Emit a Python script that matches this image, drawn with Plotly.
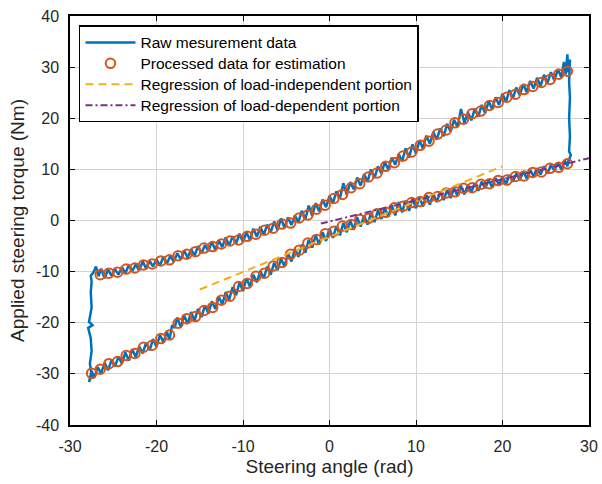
import plotly.graph_objects as go

# ---------------- data ----------------
# Raw measurement loop: upper branch (left->right), right drop, lower branch (right->left), left rise
raw_x = [
    -27.3, -27.0, -26.7, -26.4, -26.0, -25.6, -25.2, -24.8, -24.4, -24.0, -23.6, -23.2, -22.8, -22.4,
    -22.0, -21.6, -21.2, -20.8, -20.4, -20.0, -19.6, -19.2, -18.8, -18.4, -18.0, -17.6, -17.2, -16.8,
    -16.4, -16.0, -15.6, -15.2, -14.8, -14.4, -14.0, -13.6, -13.2, -12.8, -12.4, -12.0, -11.6, -11.2,
    -10.8, -10.4, -10.0, -9.6, -9.2, -8.8, -8.4, -8.0, -7.6, -7.2, -6.8, -6.4, -6.0, -5.6, -5.2, -4.8,
    -4.4, -4.0, -3.6, -3.2, -2.8, -2.4, -2.0, -1.6, -1.2, -0.8, -0.4, 0.0, 0.4, 0.8, 1.2, 1.6, 2.0,
    2.4, 2.8, 3.2, 3.6, 4.0, 4.4, 4.8, 5.2, 5.6, 6.0, 6.4, 6.8, 7.2, 7.6, 8.0, 8.4, 8.8, 9.2, 9.6,
    10.0, 10.4, 10.8, 11.2, 11.6, 12.0, 12.4, 12.8, 13.2, 13.6, 14.0, 14.4, 14.8, 15.2, 15.6, 16.0,
    16.4, 16.8, 17.2, 17.6, 18.0, 18.4, 18.8, 19.2, 19.6, 20.0, 20.4, 20.8, 21.2, 21.6, 22.0, 22.4,
    22.8, 23.2, 23.6, 24.0, 24.4, 24.8, 25.2, 25.6, 26.0, 26.4, 26.8, 27.1, 27.3, 27.5, 27.6,
    27.8, 27.7, 27.8, 27.7, 27.8, 27.7, 27.9, 27.6, 27.5,
    27.2, 26.8, 26.4, 26.0, 25.6, 25.2, 24.8, 24.4, 24.0, 23.6, 23.2, 22.8, 22.4, 22.0, 21.6, 21.2,
    20.8, 20.4, 20.0, 19.6, 19.2, 18.8, 18.4, 18.0, 17.6, 17.2, 16.8, 16.4, 16.0, 15.6, 15.2, 14.8,
    14.4, 14.0, 13.6, 13.2, 12.8, 12.4, 12.0, 11.6, 11.2, 10.8, 10.4, 10.0, 9.6, 9.2, 8.8, 8.4, 8.0,
    7.6, 7.2, 6.8, 6.4, 6.0, 5.6, 5.2, 4.8, 4.4, 4.0, 3.6, 3.2, 2.8, 2.4, 2.0, 1.6, 1.2, 0.8, 0.4,
    0.0, -0.4, -0.8, -1.2, -1.6, -2.0, -2.4, -2.8, -3.2, -3.6, -4.0, -4.4, -4.8, -5.2, -5.6, -6.0,
    -6.4, -6.8, -7.2, -7.6, -8.0, -8.4, -8.8, -9.2, -9.6, -10.0, -10.4, -10.8, -11.2, -11.6, -12.0,
    -12.4, -12.8, -13.2, -13.6, -14.0, -14.4, -14.8, -15.2, -15.6, -16.0, -16.4, -16.8, -17.2, -17.6,
    -17.9, -18.2, -18.5, -18.8, -19.2, -19.6, -20.0, -20.4, -20.8, -21.2, -21.6, -22.0, -22.4, -22.8,
    -23.2, -23.6, -24.0, -24.4, -24.8, -25.2, -25.6, -26.0, -26.4, -26.8, -27.2, -27.5, -27.8,
    -27.5, -27.7, -27.5, -27.6, -27.9, -27.4, -27.8, -27.5, -27.6, -27.5, -27.6, -27.3,
]
raw_y = [
    -10.2, -9.0, -10.9, -9.4, -11.3, -9.6, -10.8, -9.5, -10.6, -9.1, -10.3, -8.7, -9.9, -8.6,
    -9.8, -8.0, -9.4, -7.9, -9.0, -7.6, -8.8, -7.1, -8.4, -6.9, -8.1, -6.4, -7.6, -5.9,
    -7.3, -5.6, -6.9, -5.0, -6.4, -4.8, -6.0, -4.2, -5.7, -3.9, -5.2, -3.3, -4.9, -3.1,
    -4.5, -2.6, -4.2, -2.3, -3.8, -1.6, -3.2, -1.2, -2.8, -0.8, -2.3, -0.2, -1.9, 0.4, -1.4, 0.6,
    -0.9, 1.0, -0.3, 1.9, 0.2, 2.9, 0.9, 3.4, 1.8, 4.1, 2.6, 4.8, 3.4, 5.7, 4.3, 7.3, 5.0,
    7.5, 6.1, 8.4, 6.8, 9.1, 7.6, 10.0, 8.3, 10.6, 9.2, 11.4, 10.0, 12.3, 10.9, 13.0, 11.6, 14.1, 12.3, 14.9,
    13.1, 15.7, 14.1, 16.6, 15.0, 17.3, 15.8, 18.0, 16.5, 18.9, 17.4, 19.7, 18.3, 21.8, 19.1, 21.1,
    19.6, 21.9, 20.3, 22.6, 21.0, 23.3, 21.8, 24.1, 22.6, 24.8, 23.2, 25.5, 23.9, 26.0, 24.5, 26.7,
    25.1, 27.3, 25.8, 27.9, 26.3, 28.5, 26.9, 29.0, 27.4, 29.6, 28.0, 31.0, 28.6, 32.5, 29.0,
    31.5, 27.0, 24.0, 20.0, 16.5, 13.5, 12.8, 11.5, 10.6,
    11.8, 10.0, 11.3, 9.7, 10.9, 9.2, 10.6, 9.0, 10.2, 8.6, 9.9, 8.2, 9.6, 7.9, 9.2, 7.6,
    8.9, 7.1, 8.6, 6.9, 8.3, 6.5, 7.9, 6.3, 7.6, 5.8, 7.3, 5.6, 7.0, 5.1, 6.8, 4.8,
    6.3, 4.4, 6.0, 4.0, 5.6, 3.6, 5.2, 3.1, 5.0, 2.7, 4.6, 2.4, 4.3, 1.9, 3.9, 1.6, 3.6,
    1.0, 3.0, 0.7, 2.5, 0.3, 2.0, -0.3, 1.5, -0.8, 1.0, -1.2, 0.6, -1.8, 0.0, -2.3, -0.5, -2.9, -1.1, -3.4,
    -1.6, -4.0, -2.3, -4.7, -2.9, -5.3, -3.8, -6.3, -4.7, -7.1, -5.5, -8.0, -6.4, -9.0, -7.5, -9.7,
    -8.3, -10.6, -9.0, -11.3, -9.9, -12.1, -10.6, -12.9, -11.3, -13.8, -12.1, -14.6, -13.0, -15.5, -14.0,
    -16.4, -14.9, -17.3, -15.8, -18.2, -16.6, -18.9, -17.3, -19.6, -17.9, -20.2, -18.6, -20.8, -19.0,
    -21.0, -20.5, -23.3, -21.8, -23.8, -22.4, -24.7, -23.2, -25.4, -23.9, -26.0, -24.6, -26.7, -25.2,
    -27.4, -25.8, -28.0, -26.6, -28.6, -27.3, -29.3, -27.8, -29.9, -28.7, -30.8, -29.4, -31.6,
    -30.3, -28.0, -25.5, -23.0, -21.0, -20.5, -19.8, -17.0, -14.0, -12.0, -10.8, -10.2,
]

# Processed data (circles): upper branch and lower branch
proc_up_x = [
    -26.5, -25.5, -24.5, -23.5, -22.5, -21.5, -20.5, -19.5, -18.5, -17.5, -16.5, -15.5, -14.5, -13.5,
    -12.5, -11.5, -10.5, -9.5, -8.5, -7.5, -6.5, -5.5, -4.5, -3.5, -2.5, -1.5, -0.5, 0.5, 1.5, 2.5,
    3.5, 4.5, 5.5, 6.5, 7.5, 8.5, 9.5, 10.5, 11.5, 12.5, 13.5, 14.5, 15.5, 16.5, 17.5, 18.5, 19.5,
    20.5, 21.5, 22.5, 23.5, 24.5, 25.5, 26.5, 27.5,
]
proc_up_y = [
    -10.6, -10.3, -10.1, -9.5, -9.3, -8.7, -8.5, -7.9, -7.7, -6.9, -6.6, -6.1, -5.4, -5.1,
    -4.6, -4.0, -3.8, -3.1, -2.7, -1.9, -1.5, -0.7, -0.5, 0.5, 1.1, 2.2, 3.0, 4.3, 5.1, 6.4,
    7.2, 8.5, 9.3, 10.6, 11.3, 12.6, 13.4, 14.7, 15.5, 16.9, 17.7, 19.1, 19.8, 20.9, 21.4, 22.5, 23.1,
    24.1, 24.7, 25.6, 26.2, 27.0, 27.6, 28.6, 29.2,
]
proc_low_x = [
    27.5, 26.5, 25.5, 24.5, 23.5, 22.5, 21.5, 20.5, 19.5, 18.5, 17.5, 16.5, 15.5, 14.5, 13.5, 12.5,
    11.5, 10.5, 9.5, 8.5, 7.5, 6.5, 5.5, 4.5, 3.5, 2.5, 1.5, 0.5, -0.5, -1.5, -2.5, -3.5, -4.5,
    -5.5, -6.5, -7.5, -8.5, -9.5, -10.5, -11.5, -12.5, -13.5, -14.5, -15.5, -16.5, -17.5, -18.5,
    -19.5, -20.5, -21.5, -22.5, -23.5, -24.5, -25.5, -26.5, -27.5,
]
proc_low_y = [
    11.1, 10.4, 10.2, 9.5, 9.4, 8.7, 8.6, 7.9, 7.8, 7.2, 7.1, 6.4, 6.3, 5.6, 5.4, 4.7,
    4.5, 3.7, 3.5, 2.8, 2.5, 1.6, 1.3, 0.4, 0.2, -0.8, -1.1, -2.1, -2.6, -3.7, -4.4, -5.8, -6.6,
    -8.2, -8.9, -10.3, -10.9, -12.3, -12.9, -14.8, -15.6, -17.0, -17.6, -18.8, -19.2, -20.1, -22.4,
    -23.1, -24.4, -24.8, -26.0, -26.4, -27.6, -28.0, -29.1, -29.9,
]

# Regression lines (end points)
reg_ind_x = [-15.0, 20.0]
reg_ind_y = [-13.5, 10.6]
reg_dep_x = [-1.0, 30.0]
reg_dep_y = [-0.6, 12.2]

x_ticks = [-30, -20, -10, 0, 10, 20, 30]
y_ticks = [-40, -30, -20, -10, 0, 10, 20, 30, 40]

series_names = [
    "Raw mesurement data",
    "Processed data for estimation",
    "Regression of load-independent portion",
    "Regression of load-dependent portion",
]

# ---------------- figure ----------------
FONT = "Liberation Sans, Arial, sans-serif"


def legend_label(text):
    return '<span style="font-size:15.5px">' + text + "</span>"


fig = go.Figure()
fig.add_trace(go.Scatter(
    x=raw_x, y=raw_y, mode="lines", name=legend_label(series_names[0]),
    line=dict(color="#0072BD", width=2.5),
))
fig.add_trace(go.Scatter(
    x=proc_up_x + proc_low_x, y=proc_up_y + proc_low_y, mode="markers",
    name=legend_label(series_names[1]),
    marker=dict(symbol="circle-open", size=9.5, color="#D95319", line=dict(width=2, color="#D95319")),
))
fig.add_trace(go.Scatter(
    x=reg_ind_x, y=reg_ind_y, mode="lines", name=legend_label(series_names[2]),
    line=dict(color="#EDB120", width=2, dash="8px,5px"),
))
fig.add_trace(go.Scatter(
    x=reg_dep_x, y=reg_dep_y, mode="lines", name=legend_label(series_names[3]),
    line=dict(color="#7E2F8E", width=2, dash="7px,3px,2px,3px"),
))

axis_common = dict(
    showline=True, linecolor="black", linewidth=1.5, mirror="ticks",
    ticks="inside", ticklen=5, tickwidth=1.2, tickcolor="black",
    showgrid=True, gridcolor="#d2d2d2", gridwidth=1, zeroline=False,
    tickfont=dict(family=FONT, size=16, color="#262626"),
    automargin=False,
)

fig.update_xaxes(
    range=[-30, 30], tickvals=x_ticks, ticktext=[str(v) for v in x_ticks],
    ticklabelstandoff=6,
    title=dict(text="Steering angle (rad)", font=dict(family=FONT, size=19, color="#262626"), standoff=6),
    **axis_common,
)
fig.update_yaxes(
    range=[-40, 40], tickvals=y_ticks, ticktext=[str(v) for v in y_ticks],
    ticklabelstandoff=6,
    title=dict(text="Applied steering torque (Nm)", font=dict(family=FONT, size=19, color="#262626"), standoff=6),
    **axis_common,
)

fig.update_layout(
    width=602, height=484,
    margin=dict(l=70, r=13, t=16, b=59),
    paper_bgcolor="white", plot_bgcolor="white",
    font=dict(family=FONT, color="black"),
    showlegend=True,
    legend=dict(
        x=0.0173, y=0.977, xanchor="left", yanchor="top",
        bgcolor="white", bordercolor="black", borderwidth=1.5,
        font=dict(family=FONT, size=13.8, color="black"),
        itemwidth=50, tracegroupgap=0,
    ),
)

fig.write_html(
    "out.html",
    config={"displayModeBar": False},
    post_script="document.body.style.margin='0';document.body.style.padding='0';",
)
